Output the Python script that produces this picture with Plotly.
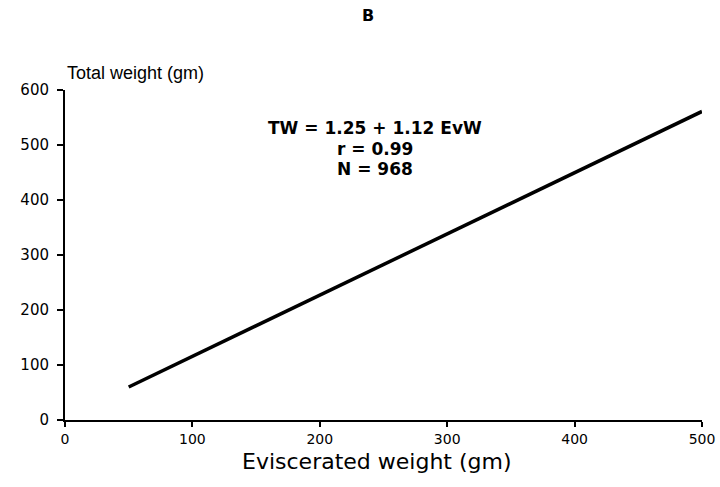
import plotly.graph_objects as go

evw = [50, 500]
tw = [60, 561]
x_ticks = [0, 100, 200, 300, 400, 500]
y_ticks = [0, 100, 200, 300, 400, 500, 600]
eq_lines = ["TW = 1.25 + 1.12 EvW", "r = 0.99", "N = 968"]

fig = go.Figure()
fig.add_trace(go.Scatter(x=evw, y=tw, mode="lines",
                         line=dict(color="black", width=3.5), showlegend=False))

font = "DejaVu Sans, sans-serif"
lib = "Liberation Sans, Arial, sans-serif"
PL, PT, PB, PR = 65, 90, 67, 18
PH = 487 - PT - PB
PW = 720 - PL - PR
fig.update_layout(
    width=720, height=487,
    margin=dict(l=PL, r=PR, t=PT, b=PB, autoexpand=False),
    paper_bgcolor="white", plot_bgcolor="white",
    font=dict(family=font, color="black", size=14),
    xaxis=dict(range=[0, 500], tickvals=x_ticks, showgrid=False, zeroline=False,
               automargin=False,
               showline=True, linecolor="black", linewidth=2,
               ticks="outside", ticklen=5, tickwidth=2, tickcolor="black",
               tickfont=dict(size=14, family=font)),
    yaxis=dict(range=[0, 600], tickvals=y_ticks, showgrid=False, zeroline=False,
               automargin=False, ticklabelstandoff=5,
               showline=True, linecolor="black", linewidth=2,
               ticks="outside", ticklen=6, tickwidth=2, tickcolor="black",
               tickfont=dict(size=15, family=font)),
)

def py(p):
    return (487 - PB - p) / PH

def px(p):
    return (p - PL) / PW

ann = [
    dict(text="<b>B</b>", xref="paper", yref="paper", x=px(368), y=py(15),
         xanchor="center", yanchor="middle", showarrow=False,
         font=dict(size=16, family=font)),
    dict(text="Total weight (gm)", xref="paper", yref="paper", x=0.0, y=py(73),
         xanchor="left", yanchor="middle", showarrow=False,
         font=dict(size=18, family=lib)),
    dict(text="Eviscerated weight (gm)", xref="paper", yref="paper", x=px(377), y=py(461),
         xanchor="center", yanchor="middle", showarrow=False,
         font=dict(size=22, family=font)),
]
for txt, p in zip(eq_lines, [128, 149, 169]):
    ann.append(dict(text="<b>" + txt + "</b>", xref="paper", yref="paper",
                    x=px(375), y=py(p), xanchor="center", yanchor="middle",
                    showarrow=False, font=dict(size=17, family=font)))
fig.update_layout(annotations=ann)
fig.write_html("out.html")
